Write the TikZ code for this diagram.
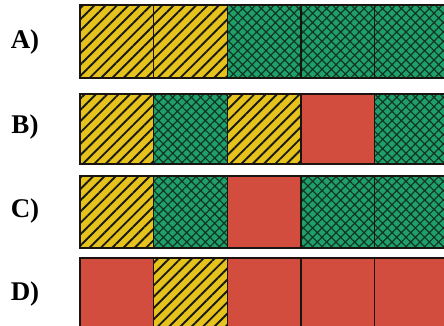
\documentclass[tikz,border=0pt]{standalone}
\usepackage{fontspec}
\setmainfont{Liberation Serif}
\usetikzlibrary{patterns.meta}
\definecolor{cyel}{HTML}{E6C21C}
\definecolor{cgrn}{HTML}{1FA06A}
\definecolor{cred}{HTML}{D24D3D}
\definecolor{chatch}{HTML}{123524}
\definecolor{cline}{HTML}{1A1410}
\tikzset{
  cell/.style={draw=cline, line width=1.3pt, minimum width=73.7pt, minimum height=#1,
    anchor=north west, inner sep=0pt, outer sep=0pt},
  Y/.style={preaction={fill=cyel}, pattern={Lines[angle=45,distance=8pt,line width=1.9pt]}, pattern color=black!90},
  G/.style={preaction={fill=cgrn}, pattern={Hatch[angle=45,distance=6.6pt,line width=1.2pt]}, pattern color=chatch},
  R/.style={fill=cred},
  lab/.style={font=\bfseries\fontsize{27}{27}\selectfont, inner sep=0pt}
}
\begin{document}
\begin{tikzpicture}[x=1pt,y=-1pt]
\useasboundingbox (0,0) rectangle (444,326);
\clip (0,0) rectangle (444,326);
\fill[white] (0,0) rectangle (444,326);
% Row A
\foreach \i/\s in {1/Y,2/Y,3/G,4/G,5/G}
  \node[cell=73pt,\s] (a\i) at ({80+(\i-1)*73.7},5) {};
% Row B
\foreach \i/\s in {1/Y,2/G,3/Y,4/R,5/G}
  \node[cell=70pt,\s] (b\i) at ({80+(\i-1)*73.7},94) {};
% Row C
\foreach \i/\s in {1/Y,2/G,3/R,4/G,5/G}
  \node[cell=72pt,\s] (c\i) at ({80+(\i-1)*73.7},176) {};
% Row D
\foreach \i/\s in {1/R,2/Y,3/R,4/R,5/R}
  \node[cell=72pt,\s] (d\i) at ({80+(\i-1)*73.7},258) {};
% Labels
\node[lab] (la) at (25,42) {A)};
\node[lab] (lb) at (25,127) {B)};
\node[lab] (lc) at (25,211) {C)};
\node[lab] (ld) at (25,294) {D)};
\end{tikzpicture}
\end{document}
